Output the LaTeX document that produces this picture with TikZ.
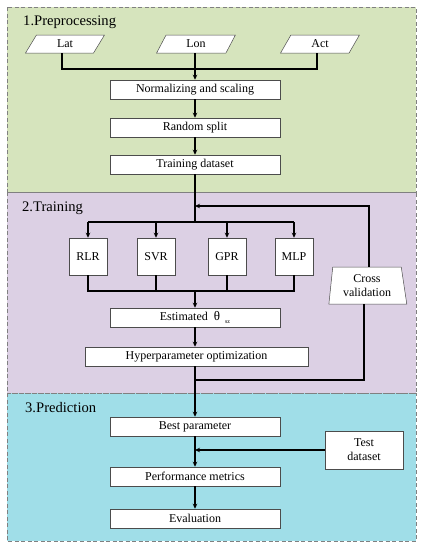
\documentclass[tikz,border=0pt]{standalone}
\usepackage{fontspec}
\setmainfont{Liberation Serif}
\usetikzlibrary{shapes.geometric,arrows.meta,calc}
\definecolor{pgreen}{RGB}{214,228,189}
\definecolor{ppurple}{RGB}{220,208,228}
\definecolor{pcyan}{RGB}{160,222,232}
\definecolor{pborder}{RGB}{128,128,128}
\begin{document}
\begin{tikzpicture}[x=1pt,y=-1pt,
  panel/.style={draw=pborder,line width=1pt,dash pattern=on 4pt off 2.5pt},
  ptitle/.style={anchor=west,inner sep=0pt,font=\fontsize{14.6}{16}\selectfont},
  box/.style={draw=black!70,line width=0.5pt,fill=white,inner sep=0pt,font=\fontsize{12}{14}\selectfont,minimum height=19pt,minimum width=170pt},
  sbox/.style={box,minimum width=38pt,minimum height=37pt},
  para/.style={trapezium,trapezium left angle=69,trapezium right angle=111,trapezium stretches=true,draw=black!70,line width=0.5pt,fill=white,inner sep=0pt,minimum width=79pt,minimum height=18pt,font=\fontsize{12}{14}\selectfont},
  trap/.style={trapezium,trapezium left angle=83,trapezium right angle=80,trapezium stretches=true,draw=black!70,line width=0.5pt,fill=white,inner sep=0pt,minimum width=78pt,minimum height=37pt,align=center,font=\fontsize{12}{14}\selectfont},
  conn/.style={line width=1.1pt},
  arr/.style={conn,-{Stealth[length=5pt,width=4.5pt]}}
]
\useasboundingbox (0,0) rectangle (423,550);
% panels
\fill[pgreen] (7,7) rectangle (416,192);
\fill[ppurple] (7,192) rectangle (416,393);
\fill[pcyan] (7,393) rectangle (416,541);
\draw[panel] (7,7) rectangle (416,192);
\draw[panel] (7,192) rectangle (416,393);
\draw[panel] (7,393) rectangle (416,541);
\node[ptitle] (t1) at (23,22) {1.Preprocessing};
\node[ptitle] (t2) at (22,208) {2.Training};
\node[ptitle] (t3) at (25,408) {3.Prediction};
% preprocessing
\node[para] (lat) at (65,44) {Lat};
\node[para] (lon) at (196,44) {Lon};
\node[para] (act) at (320,44) {Act};
\node[box] (norm) at (195,89.5) {Normalizing and scaling};
\node[box] (split) at (195,127.5) {Random split};
\node[box] (train) at (195,164.5) {Training dataset};
\coordinate (j1) at (195,69);
\draw[conn] ($(lat.south)+(-3,0)$) |- (j1);
\draw[conn] ($(act.south)+(-3,0)$) |- (j1);
\draw[arr] (lon.south -| norm.north) -- (norm.north);
\draw[arr] (norm) -- (split);
\draw[arr] (split) -- (train);
% training
\node[sbox] (rlr) at (88,256.5) {RLR};
\node[sbox] (svr) at (156,256.5) {SVR};
\node[sbox] (gpr) at (227,256.5) {GPR};
\node[sbox] (mlp) at (294,256.5) {MLP};
\node[box] (est) at (195,317.5) {Estimated\ \ {\fontsize{13}{14}\selectfont θ}\hspace{5pt}\raisebox{-3pt}{\fontsize{6}{6}\selectfont sz}};
\node[box,minimum width=223pt] (hyp) at (196.5,356.5) {Hyperparameter optimization};
\node[trap] (cv) at (367,285.5) {Cross\\validation};
\coordinate (b1) at (195,222);
\coordinate (fb) at (195,206);
\coordinate (m1) at (195,291);
\coordinate (cvj) at (195,380);
\draw[conn] (train.south) -- (b1);
\draw[conn] (rlr.north |- b1) -- (mlp.north |- b1);
\draw[arr] (rlr.north |- b1) -- (rlr.north);
\draw[arr] (svr.north |- b1) -- (svr.north);
\draw[arr] (gpr.north |- b1) -- (gpr.north);
\draw[arr] (mlp.north |- b1) -- (mlp.north);
\draw[conn] (rlr.south) |- (m1);
\draw[conn] (mlp.south) |- (m1);
\draw[conn] (svr.south) -- (svr.south |- m1);
\draw[conn] (gpr.south) -- (gpr.south |- m1);
\draw[arr] (m1) -- (est.north);
\draw[arr] (est) -- (est |- hyp.north);
\draw[arr] ($(cv.north)+(2,0)$) |- (fb);
\draw[conn] ($(cv.south)+(-3,0)$) |- (cvj);
% prediction
\node[box] (best) at (195,426.5) {Best parameter};
\node[box,minimum width=78pt,minimum height=38pt,align=center] (test) at (364,450) {Test\\dataset};
\node[box] (perf) at (195,476.5) {Performance metrics};
\node[box] (eval) at (195,518.5) {Evaluation};
\draw[arr] (best.north |- hyp.south) -- (best.north);
\draw[arr] (test.west) -- (test.west -| best.south);
\draw[arr] (best) -- (perf);
\draw[arr] (perf) -- (eval);
\end{tikzpicture}
\end{document}
